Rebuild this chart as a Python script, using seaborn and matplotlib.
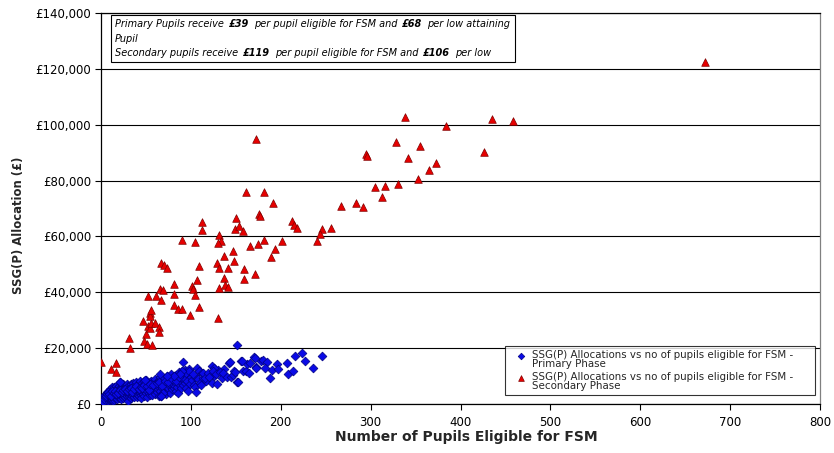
import matplotlib
matplotlib.use("Agg")
import matplotlib.pyplot as plt
import seaborn as sns
import pandas as pd
from matplotlib.ticker import FuncFormatter, MultipleLocator
from matplotlib.offsetbox import TextArea, HPacker, VPacker, AnchoredOffsetbox

# ---------------- data ----------------
# Primary phase: number of pupils eligible for FSM vs SSG(P) allocation (GBP)
prim_fsm = [
    0, 0, 1, 1, 1, 2, 2, 2, 3, 3, 3, 4, 4, 4, 5, 5, 5, 6, 6, 6, 6, 7, 7, 7, 8, 8, 8,
    9, 9, 9, 9, 10, 10, 10, 10, 10, 11, 11, 12, 12, 12, 12, 13, 13, 13, 14, 14, 14,
    15, 15, 15, 15, 16, 16, 16, 17, 17, 17, 18, 18, 18, 19, 19, 20, 20, 20, 20, 21,
    21, 21, 22, 22, 22, 23, 23, 23, 24, 24, 24, 25, 25, 25, 26, 26, 26, 27, 27, 27,
    28, 28, 28, 29, 29, 29, 30, 30, 30, 30, 31, 31, 32, 32, 32, 33, 33, 33, 34, 34,
    35, 35, 35, 36, 36, 36, 37, 37, 38, 38, 38, 39, 39, 40, 40, 40, 41, 41, 41, 42,
    42, 43, 43, 43, 44, 44, 45, 45, 45, 46, 46, 47, 47, 48, 48, 48, 49, 49, 50, 50,
    50, 51, 51, 52, 52, 53, 53, 54, 54, 55, 55, 56, 56, 57, 57, 58, 58, 59, 59, 60,
    60, 60, 61, 61, 62, 62, 63, 63, 64, 64, 65, 65, 66, 66, 67, 67, 68, 68, 69, 69,
    70, 70, 71, 71, 72, 72, 73, 73, 74, 74, 75, 75, 76, 76, 77, 77, 78, 78, 79, 79,
    80, 80, 81, 81, 82, 82, 83, 83, 84, 84, 85, 85, 86, 86, 87, 87, 88, 88, 89, 89,
    90, 90, 91, 92, 92, 93, 93, 94, 95, 95, 96, 99, 100, 101, 103, 105, 108, 110, 113,
    117, 126, 130, 137,
    2, 3, 4, 5, 6, 7, 8, 9, 11, 12, 14, 16, 17, 19, 21, 23, 25, 27, 29, 31, 33, 35,
    37, 39, 42, 44, 46, 48, 51, 53, 55, 58, 62, 65, 68, 71, 75, 79, 83, 87,
    # scattered points to the right of the main cluster
    91.6, 98, 98, 90.5, 88, 81, 73.7, 66, 49, 21, 104.6, 97, 69, 66.4, 102.7, 107,
    109, 112, 114, 115.7, 119.4, 120, 123, 124, 125.4, 125, 127.6, 128.7, 132, 134.3,
    135.4, 140.5, 142.7, 143.5, 145, 146.8, 148.3, 149, 151, 151.6, 152, 155.5,
    158.3, 161, 163, 165, 165.4, 170.5, 172.4, 172.7, 178, 180, 184.3, 182.4, 188.3,
    190, 195.4, 196.5, 206.5, 207.7, 213.3, 215.8, 223.3, 226.8, 235.5, 246.2, 106,
    111, 156.5, 171,
]
prim_alloc = [
    300, 800, 150, 1200, 600, 400, 1500, 900, 2200, 700, 1300, 500, 1900, 3100, 1000,
    2600, 1600, 800, 2100, 3600, 1300, 2900, 1800, 4300, 1100, 2400, 3300, 1500, 2800,
    4800, 2000, 1300, 3500, 2500, 5200, 1900, 4100, 2200, 1600, 3000, 6200, 3800, 2600,
    4600, 1200, 3300, 5400, 2000, 2800, 4000, 6000, 1500, 3400, 2300, 5000, 4300, 2600,
    6600, 1900, 3700, 5700, 3000, 4800, 2200, 6300, 3900, 5300, 7900, 2800, 4400, 3400,
    5900, 1700, 4900, 3100, 6700, 2500, 4200, 5600, 3600, 7000, 2000, 4700, 3000, 6100,
    5300, 2400, 4000, 3300, 6600, 5000, 2700, 4400, 7300, 3800, 5700, 1100, 6500, 2900,
    4900, 4200, 6200, 3300, 5400, 2300, 7100, 3700, 4800, 6000, 2800, 5200, 4100, 7400,
    3300, 5600, 2600, 4500, 6700, 3700, 8000, 5000, 2400, 4200, 6200, 5500, 3400, 7300,
    4700, 2900, 6000, 3900, 8300, 5100, 3200, 6600, 4400, 2300, 7600, 5500, 3600, 6200,
    4800, 8200, 2800, 5700, 7000, 3900, 6400, 8700, 4600, 2600, 5900, 7500, 4100, 6800,
    3300, 5200, 7900, 6000, 4400, 8400, 5400, 3100, 6700, 7600, 4800, 5800, 9000, 3700,
    6300, 7200, 5000, 8000, 4200, 6700, 5500, 3000, 7500, 8700, 6100, 4600, 9500, 7000,
    2700, 5700, 8300, 4050, 6600, 7700, 9200, 5200, 6900, 3500, 8100, 10000, 6200, 7300,
    4700, 8800, 5800, 6800, 9700, 4000, 7600, 8500, 10800, 6300, 5300, 9300, 7300, 10100,
    5600, 8000, 6600, 4500, 9000, 7400, 10500, 6000, 8400, 3800, 9700, 7000, 11300, 8800,
    10600, 5900, 7900, 9400, 11800, 6800, 8500, 10200, 12200, 7500, 9100, 5600, 11000,
    8300, 7200, 9500, 8600, 6800, 9800, 8900, 7500, 9400, 8200, 9900, 12000, 12600,
    700, 1700, 2500, 3400, 2700, 3500, 4200, 3700, 3000, 4700, 4100, 4500, 3500, 3900,
    5000, 4300, 4900, 5300, 4600, 5500, 5900, 4300, 5400, 6600, 5200, 6100, 5800, 6900,
    6500, 5100, 7200, 6900, 7400, 7900, 6400, 8400, 7700, 8900, 8100, 9500,
    14930, 12420, 11820, 11820, 10630, 10130, 10030, 10630, 8590, 7880, 6190, 4650,
    4050, 2970, 10740, 12780, 11820, 10990, 10990, 9420, 10990, 9770, 7630, 13600,
    12780, 11820, 10850, 7050, 11560, 9200, 10990, 9770, 14570, 15150, 9560, 10380,
    11820, 11560, 21120, 7980, 7880, 15400, 11920, 11820, 14210, 11210, 14790, 16720,
    13360, 13000, 15400, 15750, 14930, 12780, 9310, 12170, 14210, 12420, 14700, 10600,
    11920, 17100, 18150, 15450, 12780, 17130, 4190, 6800, 15400, 16580,
]

# Secondary phase
sec_fsm = [
    0, 10.8, 17, 17, 31, 32, 50, 48, 51, 57, 47, 52, 54.5, 56, 60, 65, 65, 54.5, 55,
    56, 52, 61, 67, 66, 69, 67, 70, 73, 81, 81, 81, 86, 90, 99, 90, 105, 101.5, 102,
    105, 107, 109, 109, 112.7, 112, 130, 128.7, 131, 131.6, 136.5, 137.6, 141, 141,
    137, 131.6, 133.5, 130, 147, 148, 150, 149, 154, 157.6, 158.7, 158.7, 161.6,
    172.4, 165.4, 171.3, 174.6, 181, 181, 175.8, 177.2, 191.7, 188.8, 193.9, 201.7,
    212, 215, 217.7, 246, 256, 244, 240.6, 267, 284, 292, 294.4, 296, 312.6, 304.5,
    316, 330, 328, 338, 342, 355, 353, 365, 372.6, 383.8, 426, 435, 458.6, 671.5,
]
sec_alloc = [
    15000, 12640, 14570, 11350, 23740, 19980, 24960, 22660, 21380, 21020, 29720, 27930,
    27320, 29110, 28890, 27680, 25890, 32470, 31510, 33660, 38670, 38780, 37130, 41170,
    40710, 50380, 49770, 48800, 43070, 39280, 35550, 33900, 33900, 31870, 58720, 57890,
    42250, 41280, 39030, 44500, 49520, 34840, 65270, 62300, 30900, 50380, 48690, 41420,
    45000, 42710, 41780, 48590, 52880, 60400, 58470, 57540, 54780, 51090, 66700, 62760,
    63730, 61940, 48340, 44760, 75800, 94780, 56680, 46440, 57400, 58610, 76010, 67920,
    67310, 71860, 52530, 55600, 58360, 65520, 64090, 63020, 62760, 62900, 60970, 58360,
    71000, 71860, 70430, 89400, 88800, 74220, 77700, 77950, 78660, 93700, 102860, 87970,
    92480, 80450, 83780, 86180, 99540, 90330, 101930, 101220, 122340,
]

label_primary = "SSG(P) Allocations vs no of pupils eligible for FSM -\nPrimary Phase"
label_secondary = "SSG(P) Allocations vs no of pupils eligible for FSM -\nSecondary Phase"
x_title = "Number of Pupils Eligible for FSM"
y_title = "SSG(P) Allocation (£)"

# ---------------- plotting ----------------
sns.set_style("white")
plt.rcParams['font.family'] = ['DejaVu Sans']

W, H = 834, 453
fig = plt.figure(figsize=(W / 100, H / 100), dpi=100)
ax = fig.add_axes([101 / W, 1 - 404 / H, (820 - 101) / W, (404 - 13) / H])

prim = pd.DataFrame({"fsm": prim_fsm, "alloc": prim_alloc})
sec = pd.DataFrame({"fsm": sec_fsm, "alloc": sec_alloc})

sns.scatterplot(data=prim, x="fsm", y="alloc", marker="D", s=20, color="#0A0AE6",
                edgecolor="#000080", linewidth=0.5, ax=ax, label=label_primary, zorder=3)
sns.scatterplot(data=sec, x="fsm", y="alloc", marker="^", s=30, color="#E60000",
                edgecolor="#800000", linewidth=0.5, ax=ax, label=label_secondary, zorder=4)

ax.set_xlim(0, 800)
ax.set_ylim(0, 140000)
ax.xaxis.set_major_locator(MultipleLocator(100))
ax.yaxis.set_major_locator(MultipleLocator(20000))
ax.yaxis.set_major_formatter(FuncFormatter(lambda v, p: "£{:,.0f}".format(v)))

ax.grid(axis="y", color="black", linewidth=0.8)
ax.grid(axis="x", visible=False)
ax.set_axisbelow(True)

for side in ["left", "bottom", "top"]:
    ax.spines[side].set_color("black")
    ax.spines[side].set_linewidth(0.9)
ax.spines["right"].set_color("#808080")
ax.spines["right"].set_linewidth(0.9)

ax.tick_params(axis="both", which="major", bottom=True, left=True, direction="out",
               length=4, width=0.8, colors="black", labelsize=8.5, pad=3)
ax.tick_params(axis="x", pad=5)

ax.set_xlabel(x_title, fontsize=10, fontweight="bold")
ax.set_ylabel(y_title, fontsize=8.4, fontweight="bold")
ax.xaxis.set_label_coords(0.508, -0.084)
ax.xaxis.label.set_va("center")
ax.yaxis.set_label_coords(-0.1154, 0.458)
ax.yaxis.label.set_va("center")

# legend (expanded to the reference box width)
leg_x0, leg_x1, leg_top, leg_bot = 505, 815, 346, 398
leg = ax.legend(loc="upper left",
                bbox_to_anchor=(leg_x0 / W, 1 - leg_bot / H, (leg_x1 - leg_x0) / W,
                                (leg_bot - leg_top) / H),
                bbox_transform=fig.transFigure, mode="expand", frameon=True,
                fancybox=False, edgecolor="black", fontsize=7.4, borderaxespad=0,
                borderpad=0.35, handletextpad=0.25, labelspacing=0.25, handlelength=2.0,
                markerscale=0.75)
leg.get_frame().set_linewidth(0.8)
for t in leg.get_texts():
    t.set_linespacing(0.95)
# put the marker level with the first line of its two-line label
for hnd in leg.legend_handles:
    offs = hnd.get_offsets()
    hnd.set_offsets(offs + [[1.5, 3.5]])

# annotation text box with bold amounts
fs = 7.05


def seg(s, bold=False):
    return TextArea(s, textprops=dict(fontsize=fs, style="italic",
                                      fontweight="bold" if bold else "normal",
                                      color="black"))


line1 = HPacker(children=[seg("Primary Pupils receive"), seg("£39", True),
                          seg("per pupil eligible for FSM and"), seg("£68", True),
                          seg("per low attaining")], align="baseline", pad=0, sep=3.5)
line2 = HPacker(children=[seg("Pupil")], align="baseline", pad=0, sep=0)
line3 = HPacker(children=[seg("Secondary pupils receive"), seg("£119", True),
                          seg("per pupil eligible for FSM and"), seg("£106", True),
                          seg("per low")], align="baseline", pad=0, sep=3.5)
box = VPacker(children=[line1, line2, line3], align="left", pad=0, sep=3.2)
anch = AnchoredOffsetbox(loc="upper left", child=box, pad=0.3, borderpad=0,
                         frameon=True, bbox_to_anchor=(111 / W, 1 - 15 / H),
                         bbox_transform=fig.transFigure)
anch.patch.set_edgecolor("black")
anch.patch.set_linewidth(0.8)
anch.set_zorder(6)
ax.add_artist(anch)

fig.savefig("out.png", dpi=100, facecolor="white")
